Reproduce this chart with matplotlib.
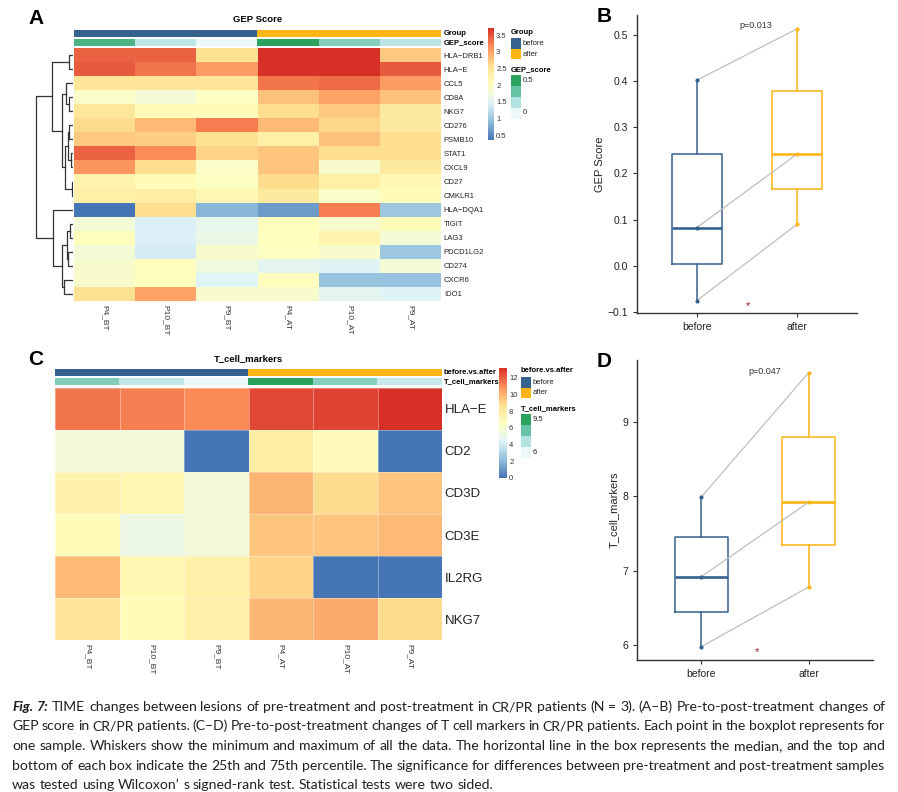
import matplotlib
matplotlib.use('Agg')
import matplotlib.pyplot as plt
import numpy as np
from matplotlib.colors import LinearSegmentedColormap, Normalize
from matplotlib.cm import ScalarMappable
from matplotlib.patches import Rectangle

W, H = 898, 792

# ---- data ----
samples = ['P4_BT', 'P10_BT', 'P9_BT', 'P4_AT', 'P10_AT', 'P9_AT']
groups  = ['before', 'before', 'before', 'after', 'after', 'after']

gep_genes = ['HLA-DRB1', 'HLA-E', 'CCL5', 'CD8A', 'NKG7', 'CD276', 'PSMB10', 'STAT1', 'CXCL9',
             'CD27', 'CMKLR1', 'HLA-DQA1', 'TIGIT', 'LAG3', 'PDCD1LG2', 'CD274', 'CXCR6', 'IDO1']
gep_values = [
    [3.40, 3.40, 2.55, 3.70, 3.70, 2.75],
    [3.45, 3.30, 3.05, 3.70, 3.70, 3.45],
    [2.50, 2.50, 2.50, 3.30, 3.35, 3.05],
    [1.95, 1.80, 2.00, 2.80, 3.00, 2.80],
    [2.45, 2.10, 2.10, 2.60, 2.75, 2.40],
    [2.62, 2.85, 3.25, 2.85, 2.65, 2.40],
    [2.75, 2.70, 2.55, 2.30, 2.80, 2.60],
    [3.40, 3.15, 2.68, 2.77, 2.60, 2.60],
    [3.10, 2.60, 1.95, 2.77, 1.90, 2.40],
    [2.25, 2.10, 2.00, 2.62, 2.30, 2.15],
    [2.30, 2.35, 2.15, 2.40, 1.95, 2.10],
    [0.35, 2.60, 0.85, 0.65, 3.25, 1.00],
    [1.80, 1.45, 1.60, 2.05, 1.90, 2.10],
    [2.05, 1.45, 1.65, 2.05, 2.25, 1.80],
    [1.80, 1.40, 1.90, 2.00, 1.90, 1.00],
    [1.90, 2.05, 1.75, 1.55, 1.50, 1.80],
    [1.90, 2.05, 1.50, 2.05, 0.95, 0.95],
    [2.55, 3.00, 1.90, 1.90, 1.55, 1.50],
]
gep_score = [0.402, 0.083, -0.075, 0.513, 0.242, 0.090]

# row dendrogram of panel A: (left node, right node, height); leaves are 0..17
gep_merges = [
    (0, 1, 4), (3, 4, 4), (2, 19, 7), (5, 6, 4), (7, 8, 2.5), (21, 22, 5.5),
    (9, 10, 1.5), (23, 24, 8.5), (20, 25, 11.5), (18, 26, 21),
    (12, 13, 3.5), (14, 15, 5), (28, 29, 6.5), (16, 17, 9), (30, 31, 11.5),
    (11, 32, 20.5), (27, 33, 37),
]

tcell_genes = ['HLA-E', 'CD2', 'CD3D', 'CD3E', 'IL2RG', 'NKG7']
tcell_values = [
    [11.6, 11.3, 11.05, 12.6, 12.7, 13.2],
    [5.6, 5.6, 0.0, 7.8, 6.8, 0.0],
    [7.5, 7.2, 5.6, 9.9, 8.9, 9.5],
    [6.9, 5.2, 5.6, 9.5, 9.5, 9.8],
    [9.8, 7.2, 7.6, 9.1, 0.0, 0.0],
    [8.5, 6.9, 7.6, 9.9, 10.2, 8.9],
]
tcell_score = [7.99, 6.92, 5.98, 9.66, 7.92, 6.78]

group_colors = {'before': '#35618F', 'after': '#FDB515'}
hm_colors  = ['#4575B4', '#91BFDB', '#E0F3F8', '#FFFFBF', '#FEE090', '#FC8D59', '#D73027']
ann_colors = ['#EDF8FB', '#B2E2E2', '#66C2A4', '#2CA25F']

caption_lines = [
    'TIME changes between lesions of pre-treatment and post-treatment in CR/PR patients (N = 3). (A\u2013B) Pre-to-post-treatment changes of',
    'GEP score in CR/PR patients. (C\u2013D) Pre-to-post-treatment changes of T cell markers in CR/PR patients. Each point in the boxplot represents for',
    'one sample. Whiskers show the minimum and maximum of all the data. The horizontal line in the box represents the median, and the top and',
    'bottom of each box indicate the 25th and 75th percentile. The significance for differences between pre-treatment and post-treatment samples',
    'was tested using Wilcoxon\u2019 s signed-rank test. Statistical tests were two sided.',
]

plt.rcParams['font.family'] = ['Liberation Sans', 'DejaVu Sans']
hm_cmap  = LinearSegmentedColormap.from_list('rdylbu', hm_colors)
ann_cmap = LinearSegmentedColormap.from_list('bugn', ann_colors)

fig = plt.figure(figsize=(W / 100, H / 100), dpi=100)


def px_axes(x0, y0, x1, y1):
    return fig.add_axes([x0 / W, 1 - y1 / H, (x1 - x0) / W, (y1 - y0) / H])


def heatmap(box, values, genes, norm, row_size, edge=None):
    ax = px_axes(*box)
    data = np.array(values)
    ax.pcolormesh(data, cmap=hm_cmap, norm=norm,
                  edgecolors=edge if edge else 'face', linewidth=0.4 if edge else 0)
    ax.set_xlim(0, data.shape[1])
    ax.set_ylim(data.shape[0], 0)
    ax.set_yticks(np.arange(len(genes)) + 0.5)
    ax.set_yticklabels([g.replace('-', '\u2212') for g in genes], fontsize=row_size, color='#222222')
    ax.yaxis.tick_right()
    ax.set_xticks(np.arange(len(samples)) + 0.5)
    ax.set_xticklabels(samples, rotation=270, fontsize=6, color='#333333')
    ax.tick_params(length=0, pad=2)
    ax.tick_params(axis='x', pad=3)
    for s in ax.spines.values():
        s.set_visible(False)
    return ax


def annotation_bars(x0, x1, y_group, y_score, scores):
    ax = px_axes(x0, y_group[0], x1, y_group[1])
    ax.imshow([[matplotlib.colors.to_rgb(group_colors[g]) for g in groups]], aspect='auto')
    ax.axis('off')
    ax = px_axes(x0, y_score[0], x1, y_score[1])
    norm = Normalize(min(scores), max(scores))
    ax.imshow([[ann_cmap(norm(v)) for v in scores]], aspect='auto')
    ax.axis('off')


def colorbar(box, norm, ticks):
    cax = px_axes(*box)
    cb = fig.colorbar(ScalarMappable(norm=norm, cmap=hm_cmap), cax=cax, ticks=ticks)
    cb.outline.set_visible(False)
    cax.tick_params(length=0, labelsize=5.5, pad=1.5, colors='#333333')
    cax.set_yticklabels([f'{t:g}' for t in ticks])


def dendrogram(box, merges, n_leaves):
    ax = px_axes(*box)
    pos = {i: (0.0, i + 0.5) for i in range(n_leaves)}
    for k, (a, b, h) in enumerate(merges):
        ha, ya = pos[a]
        hb, yb = pos[b]
        ax.plot([ha, h, h, hb], [ya, ya, yb, yb], color='#333333', lw=0.9)
        pos[n_leaves + k] = (h, (ya + yb) / 2)
    ax.set_xlim(38, 0)
    ax.set_ylim(n_leaves, 0)
    ax.axis('off')


def paired_box(box, scores, ylim, yticks, ylabel, ptext, p_xy, star_xy):
    ax = px_axes(*box)
    before, after = scores[:3], scores[3:]
    for pos, vals, g in ((1, before, 'before'), (2, after, 'after')):
        c = group_colors[g]
        ax.boxplot(vals, positions=[pos], widths=0.5, whis=(0, 100), showfliers=False,
                   showcaps=False, manage_ticks=False,
                   boxprops=dict(color=c, lw=1.1), whiskerprops=dict(color=c, lw=1.1),
                   medianprops=dict(color=c, lw=1.9))
    for b, a in zip(before, after):
        ax.plot([1, 2], [b, a], color='#BEBEBE', lw=0.9, zorder=3)
    ax.scatter([1] * 3, before, s=9, color=group_colors['before'], zorder=4, lw=0)
    ax.scatter([2] * 3, after, s=9, color=group_colors['after'], zorder=4, lw=0)
    ax.set_xlim(0.4, 2.6)
    ax.set_ylim(*ylim)
    ax.set_xticks([1, 2])
    ax.set_xticklabels(['before', 'after'])
    ax.set_yticks(yticks)
    ax.set_ylabel(ylabel, fontsize=8, color='#222222', labelpad=2)
    ax.tick_params(direction='out', length=3, width=0.8, labelsize=7.5, colors='#333333', labelcolor='#222222')
    for side in ('top', 'right'):
        ax.spines[side].set_visible(False)
    for side in ('left', 'bottom'):
        ax.spines[side].set_linewidth(1.0)
        ax.spines[side].set_color('#333333')
    ax.text(*p_xy, ptext, fontsize=6.5, ha='center', va='center', color='#333333')
    ax.text(*star_xy, '*', fontsize=8, ha='center', va='center', color='#9B1B1B')


# ---- panel A ----
gep_norm = Normalize(0.35, 3.71)
heatmap((74, 48, 441, 301), gep_values, gep_genes, gep_norm, 5.5)
annotation_bars(74, 441, (29.5, 37), (38.5, 46), gep_score)
dendrogram((35, 48, 73, 301), gep_merges, len(gep_genes))
colorbar((488, 28, 494, 140), gep_norm, [0.5, 1, 1.5, 2, 2.5, 3, 3.5])

# ---- panel C ----
tcell_norm = Normalize(0, 13.2)
heatmap((55, 388, 442, 640), tcell_values, tcell_genes, tcell_norm, 9.5, edge=(1, 1, 1, 0.35))
annotation_bars(55, 442, (369, 376), (378, 385), tcell_score)
colorbar((499, 368, 507, 478), tcell_norm, [0, 2, 4, 6, 8, 10, 12])

# ---- panels B, D ----
paired_box((637, 15, 857, 313), gep_score, (-0.102, 0.543), [-0.1, 0, 0.1, 0.2, 0.3, 0.4, 0.5],
           'GEP Score', 'p=0.013', (1.59, 0.52), (1.51, -0.088))
paired_box((637, 360, 873, 660), tcell_score, (5.80, 9.83), [6, 7, 8, 9],
           'T_cell_markers', 'p=0.047', (1.59, 9.68), (1.52, 5.90))

# ---- overlay for letters, titles, legends and caption ----
ov = fig.add_axes([0, 0, 1, 1])
ov.set_xlim(0, W)
ov.set_ylim(H, 0)
ov.axis('off')
ov.patch.set_alpha(0)

for letter, x, y in (('A', 28, 9), ('B', 597, 7), ('C', 28, 350), ('D', 597, 352)):
    ov.text(x, y, letter, fontsize=15, fontweight='bold', ha='left', va='top')

ov.text(257.5, 20, 'GEP Score', fontsize=6.8, fontweight='bold', ha='center', va='center')
ov.text(248.5, 359, 'T_cell_markers', fontsize=6.8, fontweight='bold', ha='center', va='center')

bar_labels = [('Group', 444, 33.5), ('GEP_score', 444, 42.5),
              ('before.vs.after', 444, 372.5), ('T_cell_markers', 444, 381.5)]
for s, x, y in bar_labels:
    ov.text(x, y, s, fontsize=5.5, fontweight='bold', ha='left', va='center')


def legend(x, y_title, title, score_title, score_labels):
    ov.text(x, y_title, title, fontsize=5.5, fontweight='bold', ha='left', va='center')
    y = y_title + 6
    for g in ('before', 'after'):
        ov.add_patch(Rectangle((x, y), 10, 10.5, color=group_colors[g], lw=0))
        ov.text(x + 12, y + 5.5, g, fontsize=5.5, ha='left', va='center', color='#222222')
        y += 10.5
    y += 11
    ov.text(x, y, score_title, fontsize=5.5, fontweight='bold', ha='left', va='center')
    y += 5
    y0 = y
    for c in ann_colors[::-1]:
        ov.add_patch(Rectangle((x, y), 10, 11, color=c, lw=0))
        y += 11
    ov.text(x + 12, y0 + 5.5, score_labels[0], fontsize=5.5, ha='left', va='center', color='#222222')
    ov.text(x + 12, y - 6, score_labels[1], fontsize=5.5, ha='left', va='center', color='#222222')


legend(511, 32, 'Group', 'GEP_score', ['0.5', '0'])
legend(521, 371, 'before.vs.after', 'T_cell_markers', ['9.5', '6'])

# caption, justified lines like the journal layout
cap_font = ['Lato', 'DejaVu Sans']
cap_color = '#231F20'
left, right = 12, 885
baselines = [711, 730.5, 750, 769.5, 789]
renderer = fig.canvas.get_renderer()


def text_width(s, **kw):
    t = ov.text(0, 0, s, fontsize=size, family=cap_font, **kw)
    w = t.get_window_extent(renderer).width
    t.remove()
    return w


line_words = [[('Fig.', 'bi'), ('7:', 'bi')] + [(w, 'n') for w in caption_lines[0].split(' ')]]
line_words += [[(w, 'n') for w in line.split(' ')] for line in caption_lines[1:]]

# find the size from the first line at natural spacing
size = 10
size = 10 * (right - left) / text_width('Fig. 7: ' + caption_lines[0])
space = text_width('a a') - text_width('aa')

for i, words in enumerate(line_words):
    widths = []
    styles = []
    for w, st in words:
        kw = dict(fontweight='bold', fontstyle='italic') if st == 'bi' else {}
        styles.append(kw)
        widths.append(text_width(w, **kw))
    if i < len(line_words) - 1:
        gap = (right - left - sum(widths)) / (len(words) - 1)
    else:
        gap = space
    x = left
    for (w, _), wdt, kw in zip(words, widths, styles):
        ov.text(x, baselines[i], w, fontsize=size, family=cap_font, color=cap_color,
                va='baseline', ha='left', **kw)
        x += wdt + gap

fig.savefig('out.png', dpi=100)
